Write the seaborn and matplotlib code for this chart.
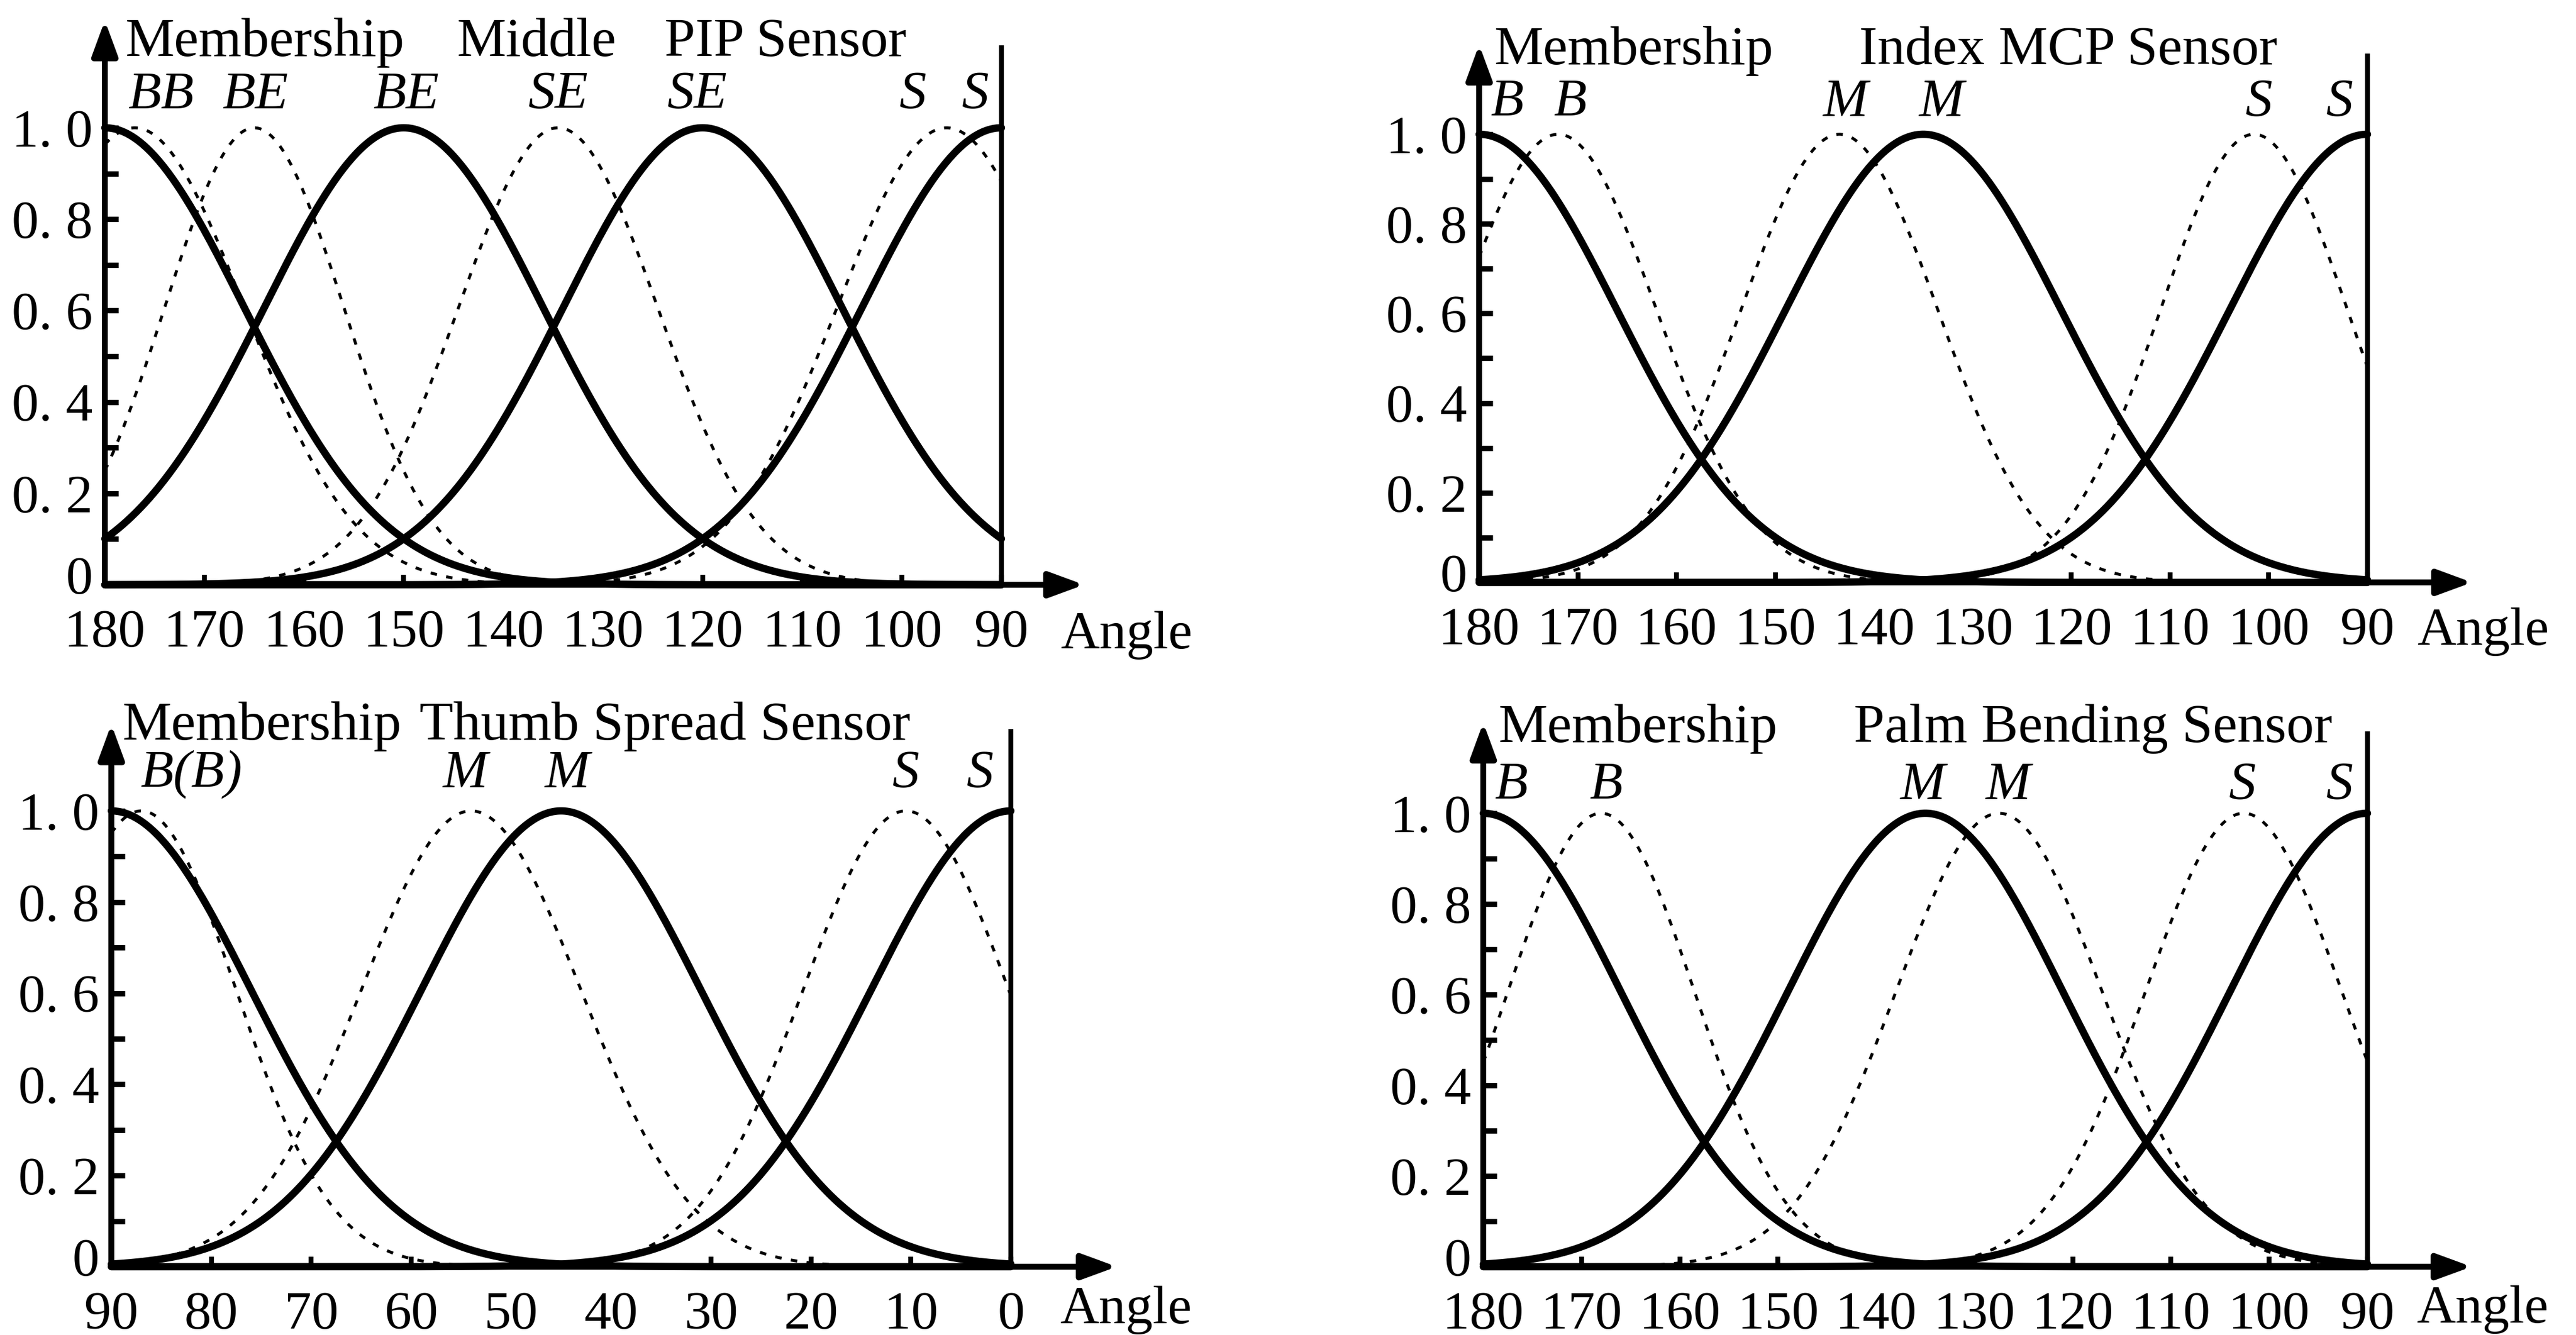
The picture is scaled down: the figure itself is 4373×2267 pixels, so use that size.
import numpy as np
import pandas as pd
import matplotlib
matplotlib.use('Agg')
import matplotlib.pyplot as plt
import matplotlib.transforms as mtransforms
import seaborn as sns

sns.set_theme(style='white')
plt.rcParams['font.family'] = ['Liberation Serif', 'DejaVu Serif']

# ---- data: Gaussian membership functions (centre, width) ----
# Middle PIP sensor
pip_solid_c = [180, 150, 120, 90]
pip_solid_w = [14, 14, 14, 14]
pip_dash_c = [177, 165, 134.5, 95.5]
pip_dash_w = [11, 9, 10, 11]
pip_names = ['BB', 'BE', 'BE', 'SE', 'SE', 'S', 'S']

# Index MCP sensor
mcp_solid_c = [180, 135, 90]
mcp_solid_w = [14, 14, 14]
mcp_dash_c = [172, 143.5, 101.5]
mcp_dash_w = [10, 10, 9.5]
mcp_names = ['B', 'B', 'M', 'M', 'S', 'S']

# Thumb spread sensor
thumb_solid_c = [90, 45, 0]
thumb_solid_w = [14, 14, 14]
thumb_dash_c = [87, 54, 10.5]
thumb_dash_w = [9.5, 11, 10.3]
thumb_names = ['B(B)', 'M', 'M', 'S', 'S']

# Palm bending sensor
palm_solid_c = [180, 135, 90]
palm_solid_w = [14, 14, 14]
palm_dash_c = [168, 127.5, 102.6]
palm_dash_w = [9.5, 10.5, 10]
palm_names = ['B', 'B', 'M', 'M', 'S', 'S']

pip_ticks = list(range(180, 89, -10))
thumb_ticks = list(range(90, -1, -10))
y_ticks = [round(v * 0.1, 1) for v in range(11)]
y_labels = ['0', '', '0. 2', '', '0. 4', '', '0. 6', '', '0. 8', '', '1. 0']


def gauss(x, c, w):
    return np.exp(-(x - c) ** 2 / (2 * w ** 2))


W, H = 4373, 2267
fig = plt.figure(figsize=(W / 300, H / 300), dpi=300)

panels = [
    dict(rect=[178, 217, 1700, 993], lo=180, hi=90, ticks=pip_ticks,
         sc=pip_solid_c, sw=pip_solid_w, dc=pip_dash_c, dw=pip_dash_w,
         names=pip_names, name_x=[174.4, 164.9, 149.8, 134.5, 120.5, 98.9, 92.6], name_y=1.07,
         titles=[('Membership', 178.0), ('Middle', 144.7), ('PIP Sensor', 123.8)],
         xtip=81.7, ytip=1.235, angle_x=84.1, angle_y=-0.11),
    dict(rect=[2511, 228, 4019, 989], lo=180, hi=90, ticks=pip_ticks,
         sc=mcp_solid_c, sw=mcp_solid_w, dc=mcp_dash_c, dw=mcp_dash_w,
         names=mcp_names, name_x=[177.2, 170.8, 142.9, 133.2, 101.0, 92.8], name_y=1.07,
         titles=[('Membership', 178.5), ('Index MCP Sensor', 141.5)],
         xtip=79.4, ytip=1.2, angle_x=85.0, angle_y=-0.11),
    dict(rect=[189, 1377, 1716, 2151], lo=90, hi=0, ticks=thumb_ticks,
         sc=thumb_solid_c, sw=thumb_solid_w, dc=thumb_dash_c, dw=thumb_dash_w,
         names=thumb_names, name_x=[82.0, 54.6, 44.4, 10.5, 3.1], name_y=1.08,
         titles=[('Membership', 88.9), ('Thumb Spread Sensor', 59.2)],
         xtip=-10.6, ytip=1.19, angle_x=-4.9, angle_y=-0.095),
    dict(rect=[2518, 1381, 4019, 2151], lo=180, hi=90, ticks=pip_ticks,
         sc=palm_solid_c, sw=palm_solid_w, dc=palm_dash_c, dw=palm_dash_w,
         names=palm_names, name_x=[177.2, 167.5, 135.3, 126.6, 102.7, 92.8], name_y=1.06,
         titles=[('Membership', 178.5), ('Palm Bending Sensor', 142.3)],
         xtip=79.4, ytip=1.2, angle_x=85.0, angle_y=-0.095),
]

for p in panels:
    x0, y0, x1, y1 = p['rect']
    ax = fig.add_axes([x0 / W, 1 - y1 / H, (x1 - x0) / W, (y1 - y0) / H])
    lo, hi = p['lo'], p['hi']
    grid = np.linspace(lo, hi, 400)

    rows = []
    for i, (c, w) in enumerate(zip(p['sc'], p['sw'])):
        rows.append(pd.DataFrame({'angle': grid, 'mu': gauss(grid, c, w), 'curve': f's{i}'}))
    solid = pd.concat(rows)
    rows = []
    for i, (c, w) in enumerate(zip(p['dc'], p['dw'])):
        rows.append(pd.DataFrame({'angle': grid, 'mu': gauss(grid, c, w), 'curve': f'd{i}'}))
    dashed = pd.concat(rows)

    for name, g in solid.groupby('curve'):
        sns.lineplot(data=g, x='angle', y='mu', ax=ax, color='black', linewidth=3.0,
                     estimator=None, sort=False, clip_on=False)
    for name, g in dashed.groupby('curve'):
        sns.lineplot(data=g, x='angle', y='mu', ax=ax, color='black', linewidth=1.2,
                     linestyle=(0, (2.2, 3.2)), estimator=None, sort=False, clip_on=False)

    ax.set_xlim(lo, hi)
    ax.set_ylim(0, 1)
    for s in ax.spines.values():
        s.set_visible(False)
    ax.set_xlabel('')
    ax.set_ylabel('')

    ax.set_xticks(p['ticks'])
    ax.set_xticklabels([str(t) for t in p['ticks']])
    ax.set_yticks(y_ticks)
    ax.set_yticklabels(y_labels)
    ax.tick_params(axis='x', direction='in', length=4, width=2.0, pad=10, labelsize=22,
                   bottom=True, top=False, colors='black')
    ax.tick_params(axis='y', direction='in', length=5.5, width=2.2, pad=5, labelsize=22,
                   left=True, right=False, colors='black')
    # lift the "0" label a little, as in the original
    lift = mtransforms.ScaledTranslation(0, 4 / 72, fig.dpi_scale_trans)
    for lab in ax.get_yticklabels():
        if lab.get_text() == '0':
            lab.set_transform(lab.get_transform() + lift)

    # axes with arrows
    arrow = dict(arrowstyle='-|>,head_length=0.6,head_width=0.22', lw=2.4, color='black',
                 mutation_scale=20, shrinkA=0, shrinkB=0)
    ax.annotate('', xy=(p['xtip'], 0), xytext=(lo, 0), arrowprops=arrow, annotation_clip=False)
    ax.annotate('', xy=(lo, p['ytip']), xytext=(lo, 0), arrowprops=arrow, annotation_clip=False)
    ax.plot([hi, hi], [0, 1.18], color='black', lw=2.0, clip_on=False, solid_capstyle='butt')

    for txt, xl in p['titles']:
        ax.text(xl, 1.186, txt, fontsize=22.5, ha='left', va='center', color='black')
    for txt, xl in zip(p['names'], p['name_x']):
        ax.text(xl, p['name_y'], txt, fontsize=22, style='italic', ha='center', va='center',
                color='black')
    ax.text(p['angle_x'], p['angle_y'], 'Angle', fontsize=22, ha='left', va='center',
            color='black')

fig.savefig('out.png', dpi=300, facecolor='white')
